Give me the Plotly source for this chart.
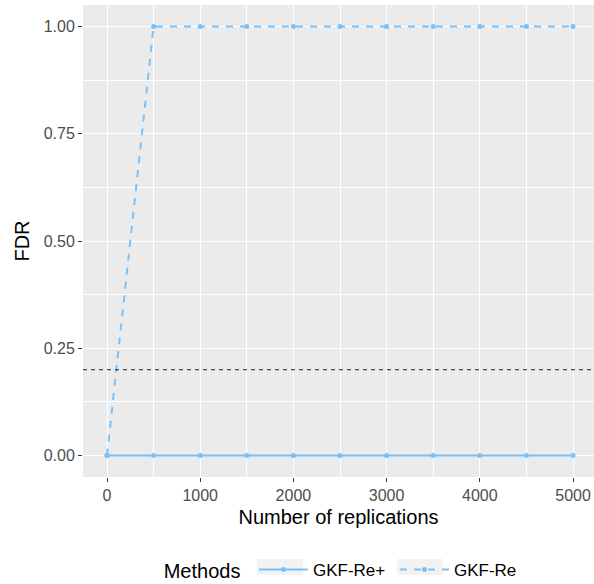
import plotly.graph_objects as go

replications = [0, 500, 1000, 1500, 2000, 2500, 3000, 3500, 4000, 4500, 5000]
fdr_re_plus = [0, 0, 0, 0, 0, 0, 0, 0, 0, 0, 0]
fdr_re = [0, 1, 1, 1, 1, 1, 1, 1, 1, 1, 1]
target_fdr = 0.2
x_ticks = [0, 1000, 2000, 3000, 4000, 5000]
y_ticks = [0, 0.25, 0.5, 0.75, 1.0]

color = "#78C2FB"
font = "Liberation Sans, Arial, sans-serif"

fig = go.Figure()
fig.add_trace(go.Scatter(
    x=replications, y=fdr_re_plus, mode="lines+markers", name="GKF-Re+",
    line=dict(color=color, width=2, dash="solid"),
    marker=dict(color=color, size=5),
))
fig.add_trace(go.Scatter(
    x=replications, y=fdr_re, mode="lines+markers", name="GKF-Re",
    line=dict(color=color, width=2, dash="7px,7px"),
    marker=dict(color=color, size=5),
))
fig.add_hline(y=target_fdr, line=dict(color="#222222", width=1, dash="4px,4px"))

# grey key backgrounds of the legend (ggplot style)
for x0, x1 in [(0.3405, 0.4305), (0.6145, 0.7045)]:
    fig.add_shape(type="rect", xref="paper", yref="paper", x0=x0, x1=x1,
                  y0=-0.2076, y1=-0.1737, fillcolor="#F2F2F2", line=dict(width=0),
                  layer="above")

fig.update_layout(
    width=594, height=584,
    margin=dict(l=83, r=0, t=5, b=107, autoexpand=False),
    paper_bgcolor="white", plot_bgcolor="#EBEBEB",
    font=dict(family=font, color="black"),
    showlegend=True,
    legend=dict(
        orientation="h", x=0.154, xanchor="left", y=-0.197, yanchor="middle",
        title=dict(text="Methods ", font=dict(size=20), side="left"),
        font=dict(size=17), itemwidth=49, entrywidth=77, entrywidthmode="pixels",
        bgcolor="rgba(0,0,0,0)",
    ),
    xaxis=dict(
        range=[-257.5, 5225], tickvals=x_ticks, tickformat="d", automargin=False,
        title=dict(text="Number of replications", font=dict(size=20), standoff=6),
        showgrid=True, gridcolor="white", gridwidth=1.2,
        minor=dict(dtick=500, tick0=0, showgrid=True, gridcolor="white", gridwidth=0.6),
        ticks="outside", ticklen=4, tickcolor="#333333", tickwidth=1.1,
        tickfont=dict(size=16, color="#4D4D4D"), zeroline=False, showline=False,
    ),
    yaxis=dict(
        range=[-0.05, 1.05], tickvals=y_ticks, tickformat=".2f", automargin=False,
        title=dict(text="FDR", font=dict(size=20), standoff=8),
        showgrid=True, gridcolor="white", gridwidth=1.2,
        minor=dict(dtick=0.125, tick0=0, showgrid=True, gridcolor="white", gridwidth=0.6),
        ticks="outside", ticklen=4, tickcolor="#333333", tickwidth=1.1,
        tickfont=dict(size=16, color="#4D4D4D"), zeroline=False, showline=False,
    ),
)

fig.write_html("out.html", config={"displayModeBar": False},
               post_script="document.body.style.margin='0';")
